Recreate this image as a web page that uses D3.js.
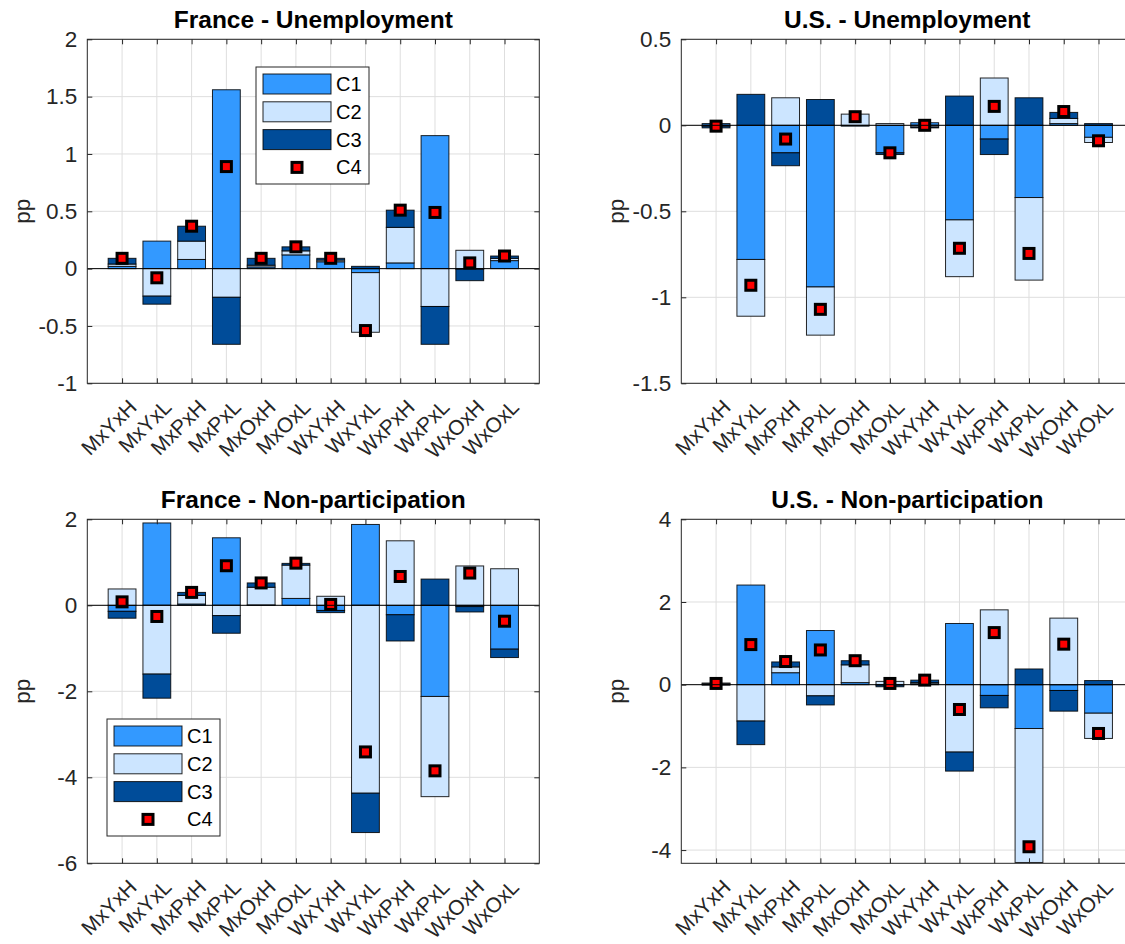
<!DOCTYPE html>
<html>
<head>
    <title>Unemployment and non-participation decomposition</title>
    <script src="https://cdnjs.cloudflare.com/ajax/libs/d3/7.8.5/d3.min.js"></script>
    <style>
        body {
            background: #ffffff;
            margin: 0;
            overflow: hidden;
        }
        svg {
            font-family: "Liberation Sans", Arial, Helvetica, sans-serif;
        }
        .tick text {
            fill: #262626;
            font-size: 22.5px;
        }
        .domain {
            display: none;
        }
        .tick line {
            stroke: #262626;
        }
        .grid line {
            stroke: #dedede;
            stroke-width: 1;
        }
        .title {
            font-size: 24.5px;
            font-weight: bold;
            fill: #000;
        }
        .ylabel {
            font-size: 22.5px;
            fill: #262626;
        }
        .legend-text {
            font-size: 20px;
            fill: #000;
        }
    </style>
</head>
<body>
    <svg id="chart"></svg>

    <script>
        // categories on the x axis
        const categories = ["MxYxH", "MxYxL", "MxPxH", "MxPxL", "MxOxH", "MxOxL",
                            "WxYxH", "WxYxL", "WxPxH", "WxPxL", "WxOxH", "WxOxL"];
        const seriesNames = ["C1", "C2", "C3", "C4"];

        // France - Unemployment
        const frUnC1 = [0.02, 0.24, 0.08, 1.56, 0.015, 0.12, 0.06, -0.035, 0.05, 1.16, -0.005, 0.07];
        const frUnC2 = [0.02, -0.24, 0.16, -0.25, 0.015, 0.035, 0.015, -0.52, 0.31, -0.33, 0.16, 0.02];
        const frUnC3 = [0.05, -0.07, 0.13, -0.41, 0.06, 0.035, 0.015, 0.02, 0.15, -0.33, -0.10, 0.02];
        const frUnC4 = [0.09, -0.08, 0.37, 0.89, 0.09, 0.19, 0.09, -0.54, 0.51, 0.49, 0.05, 0.11];

        // U.S. - Unemployment
        const usUnC1 = [0.01, -0.78, -0.16, -0.94, -0.005, -0.16, 0.015, -0.55, -0.08, -0.42, 0.01, -0.07];
        const usUnC2 = [-0.005, -0.33, 0.16, -0.28, 0.065, 0.01, -0.01, -0.33, 0.275, -0.48, 0.03, -0.03];
        const usUnC3 = [-0.01, 0.18, -0.075, 0.15, 0, -0.01, -0.005, 0.17, -0.09, 0.16, 0.035, 0.01];
        const usUnC4 = [-0.005, -0.93, -0.08, -1.07, 0.05, -0.16, 0.0, -0.715, 0.11, -0.745, 0.08, -0.09];

        // France - Non-participation
        const frNpC1 = [-0.14, 1.915, 0.03, 1.57, 0.01, 0.16, -0.12, 1.88, -0.22, -2.12, -0.03, -1.02];
        const frNpC2 = [0.38, -1.6, 0.2, -0.24, 0.41, 0.775, 0.21, -4.37, 1.5, -2.33, 0.915, 0.85];
        const frNpC3 = [-0.16, -0.56, 0.07, -0.41, 0.1, 0.04, -0.05, -0.915, -0.61, 0.61, -0.125, -0.195];
        const frNpC4 = [0.08, -0.26, 0.30, 0.92, 0.52, 0.98, 0.02, -3.41, 0.67, -3.85, 0.75, -0.37];

        // U.S. - Non-participation
        const usNpC1 = [0.02, 2.41, 0.29, 1.31, 0.05, -0.01, 0.02, 1.48, -0.26, -1.06, -0.14, -0.69];
        const usNpC2 = [0.02, -0.88, 0.14, -0.27, 0.43, 0.08, 0.03, -1.63, 1.81, -3.24, 1.61, -0.61];
        const usNpC3 = [-0.01, -0.57, 0.12, -0.22, 0.1, -0.04, 0.06, -0.46, -0.3, 0.38, -0.5, 0.1];
        const usNpC4 = [0.03, 0.97, 0.56, 0.84, 0.58, 0.03, 0.11, -0.60, 1.26, -3.92, 0.98, -1.18];

        // y tick values per panel
        const frUnTicks = [-1, -0.5, 0, 0.5, 1, 1.5, 2];
        const usUnTicks = [-1.5, -1, -0.5, 0, 0.5];
        const frNpTicks = [-6, -4, -2, 0, 2];
        const usNpTicks = [-4, -2, 0, 2, 4];

        const colors = ["#3399ff", "#cce5ff", "#004c99"];

        const width = 1125;
        const height = 944;

        const svg = d3.select("#chart")
            .attr("width", width)
            .attr("height", height);

        // panel layout (MATLAB subplot 2x2)
        const panels = [
            {title: "France - Unemployment", series: [frUnC1, frUnC2, frUnC3], net: frUnC4,
             ticks: frUnTicks, domain: [-1, 2], left: 87.3, top: 39.3, legend: [256, 67]},
            {title: "U.S. - Unemployment", series: [usUnC1, usUnC2, usUnC3], net: usUnC4,
             ticks: usUnTicks, domain: [-1.5, 0.5], left: 681.3, top: 39.3, legend: null},
            {title: "France - Non-participation", series: [frNpC1, frNpC2, frNpC3], net: frNpC4,
             ticks: frNpTicks, domain: [-6, 2], left: 87.3, top: 519.3, legend: [107, 719]},
            {title: "U.S. - Non-participation", series: [usNpC1, usNpC2, usNpC3], net: usNpC4,
             ticks: usNpTicks, domain: [-4.32, 4], left: 681.3, top: 519.3, legend: null}
        ];
        const pw = 452;
        const ph = 344;

        panels.forEach((p, pi) => {
            const g = svg.append("g").attr("transform", `translate(${p.left},${p.top})`);

            const x = d3.scaleLinear().domain([0, categories.length + 1]).range([0, pw]);
            const y = d3.scaleLinear().domain(p.domain).range([ph, 0]);
            const barW = x(0.8) - x(0);

            // background
            g.append("rect").attr("width", pw).attr("height", ph).attr("fill", "#fff");

            // grid
            const grid = g.append("g").attr("class", "grid");
            grid.selectAll(".gx").data(d3.range(1, categories.length + 1)).enter()
                .append("line")
                .attr("x1", d => x(d)).attr("x2", d => x(d))
                .attr("y1", 0).attr("y2", ph);
            grid.selectAll(".gy").data(p.ticks).enter()
                .append("line")
                .attr("x1", 0).attr("x2", pw)
                .attr("y1", d => y(d)).attr("y2", d => y(d));

            // clip
            const clipId = "clip" + pi;
            g.append("clipPath").attr("id", clipId)
                .append("rect").attr("width", pw).attr("height", ph);

            // stacked bars: positives upward, negatives downward
            const bars = [];
            categories.forEach((c, i) => {
                let pos = 0, neg = 0;
                p.series.forEach((s, k) => {
                    const v = s[i];
                    let y0, y1;
                    if (v >= 0) { y0 = pos; y1 = pos + v; pos = y1; }
                    else { y0 = neg; y1 = neg + v; neg = y1; }
                    bars.push({i: i + 1, k: k, y0: y0, y1: y1});
                });
            });

            const barG = g.append("g").attr("clip-path", `url(#${clipId})`);
            barG.selectAll("rect.bar")
                .data(bars)
                .enter().append("rect")
                .attr("class", "bar")
                .attr("x", d => x(d.i) - barW / 2)
                .attr("width", barW)
                .attr("y", d => Math.min(y(d.y0), y(d.y1)))
                .attr("height", d => Math.abs(y(d.y0) - y(d.y1)))
                .attr("fill", d => colors[d.k])
                .attr("stroke", "#000")
                .attr("stroke-opacity", 0.85)
                .attr("stroke-width", 1);

            // baseline at zero
            g.append("line")
                .attr("x1", 0).attr("x2", pw)
                .attr("y1", y(0)).attr("y2", y(0))
                .attr("stroke", "#000").attr("stroke-width", 1);

            // net effect markers
            barG.selectAll("rect.mark")
                .data(p.net)
                .enter().append("rect")
                .attr("class", "mark")
                .attr("x", (d, i) => x(i + 1) - 5)
                .attr("y", d => y(d) - 5)
                .attr("width", 10)
                .attr("height", 10)
                .attr("fill", "#ff0000")
                .attr("stroke", "#000")
                .attr("stroke-width", 3);

            // axes with inward ticks on all four sides
            g.append("g")
                .attr("transform", `translate(0,${ph})`)
                .call(d3.axisBottom(x).tickValues(d3.range(1, categories.length + 1))
                    .tickSize(-5).tickPadding(0).tickFormat(d => categories[d - 1]))
                .selectAll("text")
                .attr("text-anchor", "end")
                .attr("dy", null)
                .attr("dominant-baseline", "central")
                .attr("transform", "translate(10,20) rotate(-45)")
                .attr("y", 0)
                .style("font-size", "21px");
            g.append("g")
                .call(d3.axisTop(x).tickValues(d3.range(1, categories.length + 1))
                    .tickSize(-5).tickFormat(""));
            g.append("g")
                .call(d3.axisLeft(y).tickValues(p.ticks).tickSize(-5).tickPadding(10)
                    .tickFormat(d => String(d)));
            g.append("g")
                .attr("transform", `translate(${pw},0)`)
                .call(d3.axisRight(y).tickValues(p.ticks).tickSize(-5).tickFormat(""));

            // box
            g.append("rect")
                .attr("width", pw).attr("height", ph)
                .attr("fill", "none")
                .attr("stroke", "#262626")
                .attr("stroke-width", 1);

            // title and y label
            g.append("text")
                .attr("class", "title")
                .attr("x", pw / 2)
                .attr("y", -11)
                .attr("text-anchor", "middle")
                .text(p.title);
            g.append("text")
                .attr("class", "ylabel")
                .attr("transform", `translate(${22 - p.left + (p.left > 300 ? 594 : 0)},${ph / 2}) rotate(-90)`)
                .attr("text-anchor", "middle")
                .attr("dominant-baseline", "central")
                .text("pp");

            // legend
            if (p.legend) {
                const lg = svg.append("g")
                    .attr("transform", `translate(${p.legend[0]},${p.legend[1]})`);
                lg.append("rect")
                    .attr("width", 113).attr("height", 117)
                    .attr("fill", "#fff")
                    .attr("stroke", "#262626").attr("stroke-width", 1);
                seriesNames.forEach((name, k) => {
                    const cy = 17 + k * 27.8;
                    if (k < 3) {
                        lg.append("rect")
                            .attr("x", 7).attr("y", cy - 10)
                            .attr("width", 68).attr("height", 20)
                            .attr("fill", colors[k])
                            .attr("stroke", "#000").attr("stroke-opacity", 0.85);
                    } else {
                        lg.append("rect")
                            .attr("x", 41 - 5).attr("y", cy - 5)
                            .attr("width", 10).attr("height", 10)
                            .attr("fill", "#ff0000")
                            .attr("stroke", "#000").attr("stroke-width", 3);
                    }
                    lg.append("text")
                        .attr("class", "legend-text")
                        .attr("x", 80).attr("y", cy)
                        .attr("dominant-baseline", "central")
                        .text(name);
                });
            }
        });
    </script>
</body>
</html>
